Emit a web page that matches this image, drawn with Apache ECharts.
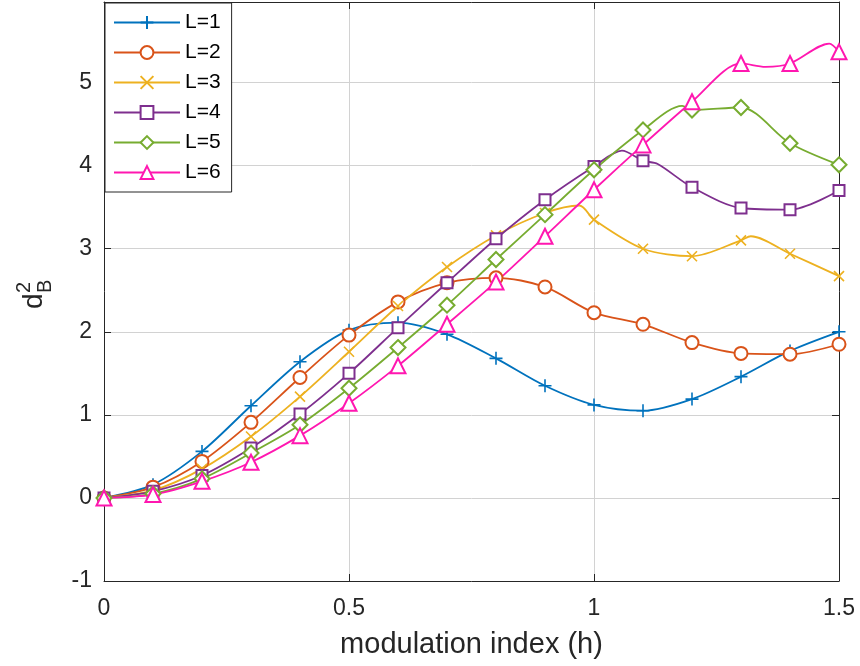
<!DOCTYPE html>
<html>
<head>
<meta charset="utf-8">
<script src="https://cdn.jsdelivr.net/npm/echarts@6/dist/echarts.min.js"></script>
<style>
html,body{margin:0;padding:0;background:#fff;}
#chart{width:860px;height:666px;}
</style>
</head>
<body>
<div id="chart"></div>
<script>
// ---- data (h, d_B^2) ----
const seriesNames = ['L=1', 'L=2', 'L=3', 'L=4', 'L=5', 'L=6'];
const xTicks = [0, 0.5, 1, 1.5];
const yTicks = [-1, 0, 1, 2, 3, 4, 5];

const L1 = [[0,0],[0.1,0.16],[0.2,0.56],[0.3,1.11],[0.4,1.64],[0.5,2.02],[0.6,2.11],[0.7,1.97],[0.8,1.68],[0.9,1.35],[1.0,1.12],[1.1,1.05],[1.2,1.19],[1.3,1.46],[1.4,1.77],[1.5,2.0]];
const L2 = [[0,0],[0.1,0.13],[0.2,0.44],[0.3,0.91],[0.4,1.45],[0.5,1.96],[0.6,2.36],[0.7,2.59],[0.8,2.65],[0.9,2.54],[1.0,2.23],[1.1,2.09],[1.2,1.87],[1.3,1.74],[1.4,1.73],[1.5,1.85]];
const L3 = [[0,0],[0.1,0.09],[0.2,0.35],[0.3,0.74],[0.4,1.22],[0.5,1.76],[0.6,2.31],[0.7,2.78],[0.8,3.16],[0.9,3.43],[0.97,3.52],[1.0,3.35],[1.1,3.0],[1.2,2.91],[1.3,3.10],[1.32,3.15],[1.4,2.94],[1.5,2.67]];
const L4 = [[0,0],[0.1,0.08],[0.2,0.27],[0.3,0.6],[0.4,1.01],[0.5,1.5],[0.6,2.05],[0.7,2.59],[0.8,3.12],[0.9,3.59],[1.0,3.99],[1.057,4.18],[1.1,4.06],[1.13,4.02],[1.2,3.74],[1.3,3.49],[1.4,3.47],[1.5,3.70]];
const L5 = [[0,0],[0.1,0.05],[0.2,0.23],[0.3,0.54],[0.4,0.88],[0.5,1.32],[0.6,1.81],[0.7,2.32],[0.8,2.87],[0.9,3.41],[1.0,3.95],[1.1,4.43],[1.18,4.72],[1.2,4.67],[1.3,4.70],[1.4,4.27],[1.5,4.01]];
const L6 = [[0,0],[0.1,0.04],[0.2,0.2],[0.3,0.43],[0.4,0.75],[0.5,1.14],[0.6,1.59],[0.7,2.09],[0.8,2.6],[0.9,3.15],[1.0,3.71],[1.1,4.25],[1.2,4.77],[1.3,5.23],[1.35,5.19],[1.4,5.23],[1.48,5.47],[1.5,5.37]];
const seriesData = [L1, L2, L3, L4, L5, L6];

// ---- styles ----
const colors = ['#0072BD', '#D95319', '#EDB120', '#7E2F8E', '#77AC30', '#FF17B0'];
const symbols = [
  'path://M0,5L10,5M5,0L5,10',
  'emptyCircle',
  'path://M0,0L10,10M10,0L0,10',
  'emptyRect',
  'emptyDiamond',
  'emptyTriangle'
];
const symbolSizes = [13, 13, 10, 11, 15, 15];
const FONT = '"Liberation Sans", Arial, Helvetica, sans-serif';
const TXT = '#262626';

function isMarker(h) {
  return Math.abs(h * 10 - Math.round(h * 10)) < 1e-6;
}

const chart = echarts.init(document.getElementById('chart'), null, {renderer: 'canvas'});

const series = seriesData.map((d, i) => ({
  name: seriesNames[i],
  type: 'line',
  data: d,
  xAxisIndex: 0,
  yAxisIndex: 0,
  smooth: 0.3,
  symbol: symbols[i],
  symbolSize: (val) => isMarker(val[0]) ? symbolSizes[i] : 0,
  showSymbol: true,
  color: colors[i],
  lineStyle: {color: colors[i], width: 1.8},
  itemStyle: {color: colors[i], borderColor: colors[i], borderWidth: 1.6},
  emphasis: {disabled: true},
  animation: false
}));

const gridLine = {show: true, lineStyle: {color: '#d2d2d2', width: 1}};

const option = {
  backgroundColor: '#ffffff',
  animation: false,
  textStyle: {fontFamily: FONT},
  grid: {left: 104, right: 21, top: 2, bottom: 85, containLabel: false},
  legend: {
    data: seriesNames,
    orient: 'vertical',
    left: 105,
    top: 3,
    padding: [9, 11, 9, 8],
    itemWidth: 66,
    itemHeight: 16,
    itemGap: 9,
    backgroundColor: '#ffffff',
    borderColor: '#262626',
    borderWidth: 1,
    borderRadius: 0,
    textStyle: {fontFamily: FONT, fontSize: 21, color: '#000', lineHeight: 20},
    selectedMode: false
  },
  xAxis: [{
    type: 'value',
    min: xTicks[0],
    max: xTicks[xTicks.length - 1],
    interval: 0.5,
    name: 'modulation index (h)',
    nameLocation: 'middle',
    nameGap: 49,
    nameTextStyle: {fontFamily: FONT, fontSize: 29, color: TXT},
    axisLine: {show: true, onZero: false, lineStyle: {color: TXT, width: 1}},
    axisTick: {show: true, inside: true, length: 7, lineStyle: {color: TXT}},
    axisLabel: {fontFamily: FONT, fontSize: 23, color: TXT, margin: 16,
      formatter: (v) => String(v)},
    splitLine: gridLine
  }, {
    type: 'value',
    position: 'top',
    min: xTicks[0],
    max: xTicks[xTicks.length - 1],
    interval: 0.5,
    axisLine: {show: true, onZero: false, lineStyle: {color: TXT, width: 1}},
    axisTick: {show: true, inside: true, length: 7, lineStyle: {color: TXT}},
    axisLabel: {show: false},
    splitLine: {show: false}
  }],
  yAxis: [{
    type: 'value',
    min: yTicks[0],
    max: 5.97,
    interval: 1,
    axisLine: {show: true, onZero: false, lineStyle: {color: TXT, width: 1}},
    axisTick: {show: true, inside: true, length: 7, lineStyle: {color: TXT}},
    axisLabel: {fontFamily: FONT, fontSize: 23, color: TXT, margin: 12, showMaxLabel: false,
      formatter: (v) => yTicks.indexOf(v) >= 0 ? String(v) : ''},
    splitLine: gridLine
  }, {
    type: 'value',
    position: 'right',
    min: yTicks[0],
    max: 5.97,
    interval: 1,
    axisLine: {show: true, onZero: false, lineStyle: {color: TXT, width: 1}},
    axisTick: {show: true, inside: true, length: 7, lineStyle: {color: TXT}},
    axisLabel: {show: false},
    splitLine: {show: false}
  }],
  graphic: [{
    type: 'group',
    x: 34,
    y: 293,
    rotation: Math.PI / 2,
    children: [
      {type: 'text', x: -16, y: 0, style: {text: 'd', font: '28px ' + FONT, fill: TXT, textAlign: 'left', textVerticalAlign: 'middle'}},
      {type: 'text', x: 0, y: -10, style: {text: '2', font: '20px ' + FONT, fill: TXT, textAlign: 'left', textVerticalAlign: 'middle'}},
      {type: 'text', x: 0, y: 11, style: {text: 'B', font: '20px ' + FONT, fill: TXT, textAlign: 'left', textVerticalAlign: 'middle'}}
    ]
  }],
  series: series
};

chart.setOption(option);
</script>
</body>
</html>
